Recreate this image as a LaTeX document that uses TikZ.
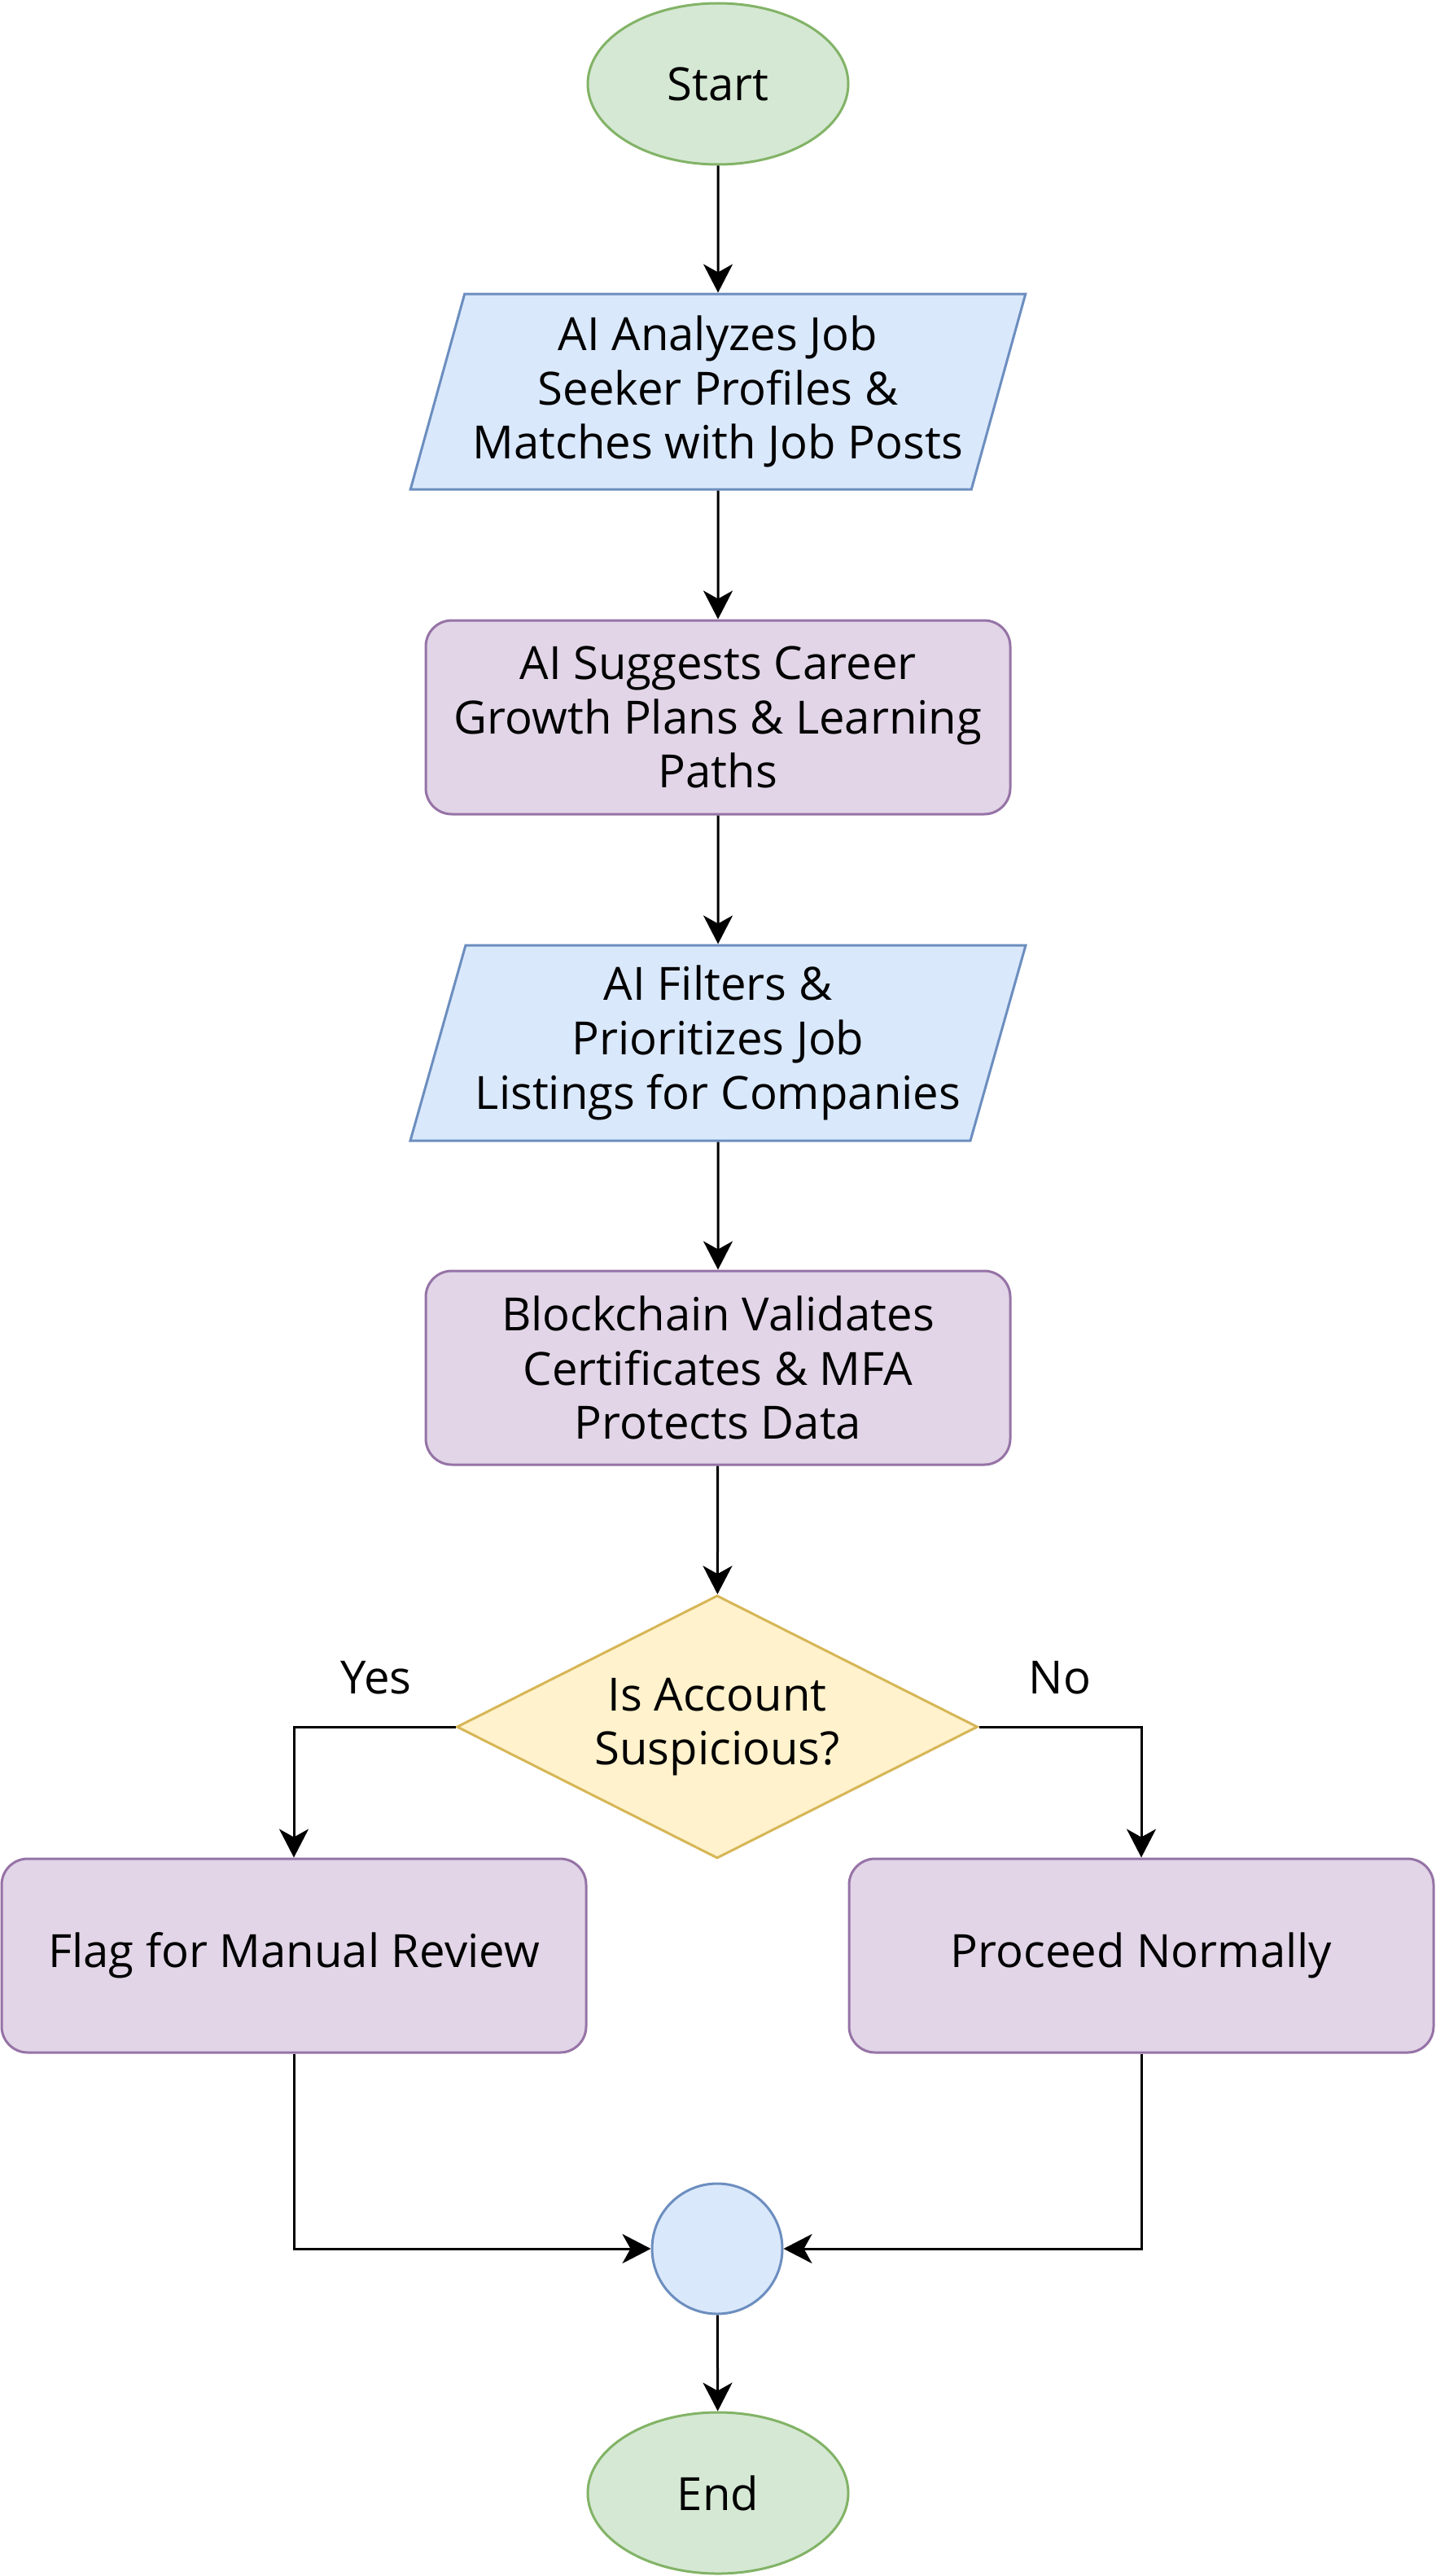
\documentclass[tikz,border=0pt]{standalone}
\usepackage{fontspec}
\setmainfont{Open Sans}
\usetikzlibrary{shapes.geometric,arrows.meta}
\begin{document}
\begin{tikzpicture}[
    termbox/.style={ellipse, draw=r130g179b102, fill=r213g232b212, line width=0.03cm,
        minimum width=3.2cm, minimum height=1.98cm, inner sep=0pt},
    iobox/.style={trapezium, trapezium left angle=71, trapezium right angle=109,
        trapezium stretches=true, draw=r108g142b191, fill=r218g232b252, line width=0.03cm,
        minimum width=7.58cm, minimum height=2.4cm, inner sep=0pt, align=center},
    procbox/.style={rectangle, rounded corners=0.32cm, draw=r150g115b166, fill=r225g213b231,
        line width=0.03cm, minimum width=7.18cm, minimum height=2.38cm, inner sep=0pt, align=center},
    askbox/.style={diamond, aspect=2, draw=r214g182b86, fill=r255g242b204, line width=0.03cm,
        minimum width=6.4cm, minimum height=3.23cm, inner sep=0pt, align=center},
    joinbox/.style={circle, draw=r108g142b191, fill=r218g232b252, line width=0.03cm,
        minimum size=1.6cm, inner sep=0pt},
    flowline/.style={line width=0.03cm, -{Stealth[length=0.35cm, width=0.36cm, inset=0.1cm]}},
    font=\fontsize{16}{19}\selectfont
  ]
                            % Changing colors
                            \definecolor{r130g179b102}{RGB}{130,179,102}%
                            \definecolor{r213g232b212}{RGB}{213,232,212}%
                            \definecolor{r108g142b191}{RGB}{108,142,191}%
                            \definecolor{r218g232b252}{RGB}{218,232,252}%
                            \definecolor{r150g115b166}{RGB}{150,115,166}%
                            \definecolor{r225g213b231}{RGB}{225,213,231}%
                            \definecolor{r214g182b86}{RGB}{214,182,86}%
                            \definecolor{r255g242b204}{RGB}{255,242,204}%

                            \useasboundingbox (0.000000,0.000000) rectangle (17.640000,-31.640000);

                            % Start and first steps
                            \node [termbox] (start) at (8.820000,-1.030000) {Start};%
                            \node [iobox] (analyze) at (8.820000,-4.810000) {AI Analyzes Job\\Seeker Profiles \&\\Matches with Job Posts};%
                            \node [procbox] (growth) at (8.820000,-8.810000) {AI Suggests Career\\Growth Plans \& Learning\\Paths};%
                            \node [iobox] (filters) at (8.820000,-12.810000) {AI Filters \&\\Prioritizes Job\\Listings for Companies};%
                            \node [procbox] (validate) at (8.820000,-16.800000) {Blockchain Validates\\Certificates \& MFA\\Protects Data};%

                            % Decision
                            \node [askbox] (suspect) at (8.810000,-21.210000) {Is Account\\Suspicious?};%
                            \node (yes) at (4.620000,-20.610000) {Yes};%
                            \node (no) at (13.020000,-20.610000) {No};%

                            % Branches
                            \node [procbox] (flag) at (3.610000,-24.020000) {Flag for Manual Review};%
                            \node [procbox] (proceed) at (14.020000,-24.020000) {Proceed Normally};%

                            % Joining and end
                            \node [joinbox] (join) at (8.810000,-27.620000) {};%
                            \node [termbox] (finish) at (8.820000,-30.620000) {End};%

                            % Drawing connectors
                            \draw [flowline] (start) -- (analyze);%
                            \draw [flowline] (analyze) -- (growth);%
                            \draw [flowline] (growth) -- (filters);%
                            \draw [flowline] (filters) -- (validate);%
                            \draw [flowline] (validate) -- (suspect);%
                            \draw [flowline] (suspect.west) -| (flag.north);%
                            \draw [flowline] (suspect.east) -| (proceed.north);%
                            \draw [flowline] (flag.south) |- (join.west);%
                            \draw [flowline] (proceed.south) |- (join.east);%
                            \draw [flowline] (join) -- (finish);%
\end{tikzpicture}
\end{document}
